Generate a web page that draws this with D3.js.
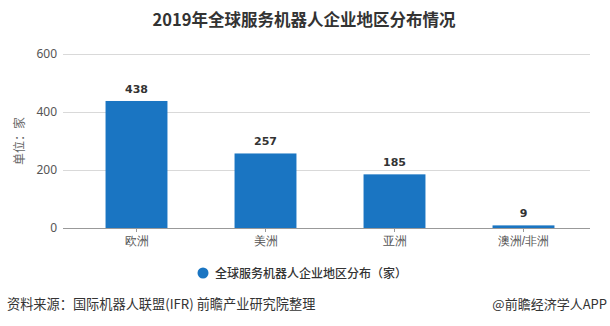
<!DOCTYPE html>
<html><head><meta charset="utf-8">
<script src="https://cdn.jsdelivr.net/npm/d3@7"></script>
<style>body{margin:0;background:#fff;}svg{display:block;font-family:"Noto Sans CJK SC","Microsoft YaHei",sans-serif;}</style>
</head><body><svg id="c" width="610" height="326"></svg>
<script>
const categories = ["欧洲","美洲","亚洲","澳洲/非洲"];
const values = [438,257,185,9];
const yTicks = [0,200,400,600];
const title = "2019年全球服务机器人企业地区分布情况";
const legendLabel = "全球服务机器人企业地区分布（家）";
const yLabel = "单位：家";
const source = "资料来源：国际机器人联盟(IFR) 前瞻产业研究院整理";
const brand = "@前瞻经济学人APP";

const svg = d3.select("#c");
const color = "#1a75c2";
const x = d3.scaleBand().domain(categories).range([72,588]).paddingInner(0.52).paddingOuter(0.26);
const y = d3.scaleLinear().domain([0,600]).range([228,54]);

svg.append("text").attr("x",304).attr("y",26).attr("text-anchor","middle")
  .attr("font-size",16.5).attr("font-weight","bold").attr("fill","#333").text(title);

// grid
svg.append("g").selectAll("line").data(yTicks.filter(d=>d>0)).join("line")
  .attr("x1",63).attr("x2",590).attr("y1",d=>y(d)).attr("y2",d=>y(d))
  .attr("stroke","#d9d9d9").attr("stroke-width",1).attr("shape-rendering","crispEdges");

// y axis labels
const ya = svg.append("g").attr("transform","translate(57,0)")
  .call(d3.axisLeft(y).tickValues(yTicks).tickSize(0).tickPadding(0));
ya.select(".domain").remove();
ya.selectAll("text").attr("font-size",12).attr("fill","#555").attr("font-family","'Noto Sans','Noto Sans CJK SC',sans-serif");

svg.append("text").attr("transform","translate(24,141) rotate(-90)").attr("text-anchor","middle")
  .attr("font-size",12).attr("fill","#666").text(yLabel);

// bars
svg.append("g").selectAll("rect").data(values).join("rect")
  .attr("x",(d,i)=>x(categories[i])).attr("width",x.bandwidth())
  .attr("y",d=>y(d)).attr("height",d=>y(0)-y(d)).attr("fill",color);

svg.append("g").selectAll("text").data(values).join("text")
  .attr("x",(d,i)=>x(categories[i])+x.bandwidth()/2).attr("y",d=>y(d)-8)
  .attr("text-anchor","middle").attr("font-size",11).attr("font-weight","bold").attr("fill","#333")
  .attr("font-family","'DejaVu Sans',sans-serif").text(d=>d);

// x axis
const xa = svg.append("g").attr("transform",`translate(0,${y(0)})`)
  .call(d3.axisBottom(x).tickSize(4).tickPadding(4));
xa.select(".domain").attr("d","M63,0.5H590").attr("stroke","#999");
xa.selectAll(".tick line").attr("stroke","#999");
xa.selectAll("text").attr("font-size",12).attr("fill","#555");

// legend
svg.append("circle").attr("cx",203).attr("cy",273).attr("r",5.5).attr("fill",color);
svg.append("text").attr("x",215).attr("y",277.5).attr("font-size",12).attr("fill","#333").attr("font-weight",500).text(legendLabel);

// footer
svg.append("text").attr("x",7).attr("y",309).attr("font-size",13.2).attr("fill","#333").text(source);
svg.append("text").attr("x",607).attr("y",309).attr("text-anchor","end").attr("font-size",13).attr("fill","#333").text(brand);
</script></body></html>
